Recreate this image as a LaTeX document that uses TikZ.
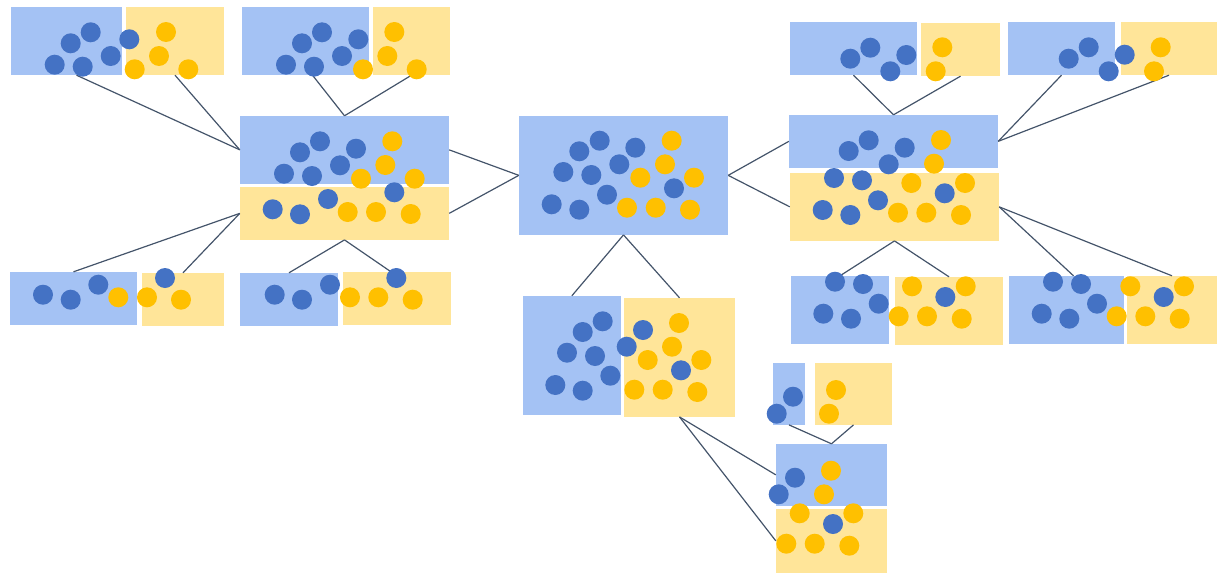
\documentclass[tikz,border=0pt]{standalone}
\usetikzlibrary{fit}
\definecolor{boxblue}{HTML}{A4C2F4}
\definecolor{boxyellow}{HTML}{FFE599}
\definecolor{dotblue}{HTML}{4472C4}
\definecolor{dotyellow}{HTML}{FFC000}
\definecolor{linkgray}{HTML}{44546A}
\tikzset{
  bluebox/.style={fill=boxblue, inner sep=0pt, draw=none},
  yellowbox/.style={fill=boxyellow, inner sep=0pt, draw=none},
  bdot/.style={circle, fill=dotblue, minimum size=20pt, inner sep=0pt},
  ydot/.style={circle, fill=dotyellow, minimum size=20pt, inner sep=0pt},
  link/.style={draw=linkgray, line width=1.2pt}
}
% one dot per x/y pair, named <prefix><index>
\newcommand\placedots[3]{\foreach[count=\i] \x/\y in {#3} \node[#2] (#1\i) at (\x,\y) {};}
\begin{document}
\begin{tikzpicture}[x=1pt, y=-1pt]
\useasboundingbox (0,0) rectangle (1226,573);

% ---- groups ----
\node[bluebox,   fit={(11,7)(122,75)}]      (A1) {};
\node[yellowbox, fit={(126,7)(224,75)}]     (A2) {};
\node[bluebox,   fit={(242,7)(369,75)}]     (B1) {};
\node[yellowbox, fit={(373,7)(450,75)}]     (B2) {};
\node[bluebox,   fit={(240,116)(449,183.7)}] (C1) {};
\node[yellowbox, fit={(240,187)(449,239.7)}] (C2) {};
\node[bluebox,   fit={(10,272)(137,324.7)}]  (D1) {};
\node[yellowbox, fit={(142,273)(224,325.7)}] (D2) {};
\node[bluebox,   fit={(240,273)(338,325.7)}] (E1) {};
\node[yellowbox, fit={(343,272)(451,324.7)}] (E2) {};
\node[bluebox,   fit={(519,116)(728,234.7)}] (F)  {};
\node[bluebox,   fit={(523,296)(620.7,414.7)}] (G1) {};
\node[yellowbox, fit={(624,298)(735,416.7)}]   (G2) {};
\node[bluebox,   fit={(790,22)(917,75)}]     (I1) {};
\node[yellowbox, fit={(921,23)(1000,76)}]    (I2) {};
\node[bluebox,   fit={(1008,22)(1115,75)}]   (J1) {};
\node[yellowbox, fit={(1121,22)(1217,75)}]   (J2) {};
\node[bluebox,   fit={(789,115)(998,167.7)}] (K1) {};
\node[yellowbox, fit={(790,173)(999,240.7)}] (K2) {};
\node[bluebox,   fit={(791,276)(889,343.7)}] (L1) {};
\node[yellowbox, fit={(895,277)(1003,344.7)}] (L2) {};
\node[bluebox,   fit={(1009,276)(1124,343.7)}] (M1) {};
\node[yellowbox, fit={(1127,276)(1217,343.7)}] (M2) {};
\node[bluebox,   fit={(773,363)(805,424.7)}] (N1) {};
\node[yellowbox, fit={(815,363)(892,424.7)}] (N2) {};
\node[bluebox,   fit={(776,444)(887,505.7)}] (H1) {};
\node[yellowbox, fit={(776,509)(887,572.7)}] (H2) {};

% ---- links ----
\draw[link] ([xshift=10pt]A1.south) -- (C1.west);
\draw[link] (A2.south) -- (C1.west);
\draw[link] ([xshift=7pt]B1.south) -- (C1.north);
\draw[link] (B2.south) -- (C1.north);
\draw[link] (C2.west) -- (D1.north);
\draw[link] (C2.west) -- (D2.north);
\draw[link] (C2.south) -- (E1.north);
\draw[link] (C2.south) -- ([xshift=-6pt]E2.north);
\draw[link] (F.west) -- (C1.east);
\draw[link] (F.west) -- (C2.east);
\draw[link] (F.east) -- (K1.west);
\draw[link] (F.east) -- (K2.west);
\draw[link] (F.south) -- (G1.north);
\draw[link] (F.south) -- (G2.north);
\draw[link] (G2.south) -- (H1.west);
\draw[link] (G2.south) -- (H2.west);
\draw[link] (N1.south) -- (H1.north);
\draw[link] (N2.south) -- (H1.north);
\draw[link] (I1.south) -- (K1.north);
\draw[link] (I2.south) -- (K1.north);
\draw[link] (J1.south) -- (K1.east);
\draw[link] (J2.south) -- (K1.east);
\draw[link] (K2.south) -- (L1.north);
\draw[link] (K2.south) -- (L2.north);
\draw[link] (K2.east) -- ([xshift=7pt]M1.north);
\draw[link] (K2.east) -- (M2.north);

% ---- dots ----
\placedots{Ab}{bdot}{90.7/32.3, 70.7/43.3, 54.7/64.7, 82.7/66.7, 110.7/56, 129.3/39.3}
\placedots{Ay}{ydot}{166/32, 159/56, 134.7/69.3, 188.3/69.3}
\placedots{Bb}{bdot}{322/32.3, 302/43.3, 286/64.7, 314/66.7, 342/56, 358.3/39.3}
\placedots{By}{ydot}{394.3/32, 387.3/56, 363/69.3, 416.7/69.3}
\placedots{Cb}{bdot}{320/141.3, 300/152.3, 284/173.7, 312/176, 340/165.3, 356/148.7, 394.3/192.3, 272.7/209.3, 300/214.3, 328/199}
\placedots{Cy}{ydot}{392.3/141.3, 385.3/165, 361/178.7, 414.7/178.7, 347.7/212, 376/212, 410.7/214}
\placedots{Db}{bdot}{43/294.7, 70.7/299.7, 98.3/284.7, 165/278}
\placedots{Dy}{ydot}{118.3/297.3, 147/297.3, 181/299.7}
\placedots{Eb}{bdot}{274.7/294.7, 302/299.7, 330/284.7, 396.3/278}
\placedots{Ey}{ydot}{350/297.3, 378.3/297.3, 412.7/299.7}
\placedots{Fb}{bdot}{599.7/140.7, 579.3/151.3, 563.3/172, 591.3/175, 619.3/164.3, 635.3/147.7, 607/194.7, 551.7/204.3, 579.3/209.7, 674/188.3}
\placedots{Fy}{ydot}{671.7/140.7, 665/164.3, 640.3/177.7, 694/177.7, 627/207.7, 655.7/207.7, 690/209.7}
\placedots{Gb}{bdot}{602.7/321.3, 582.7/332, 567/352.7, 595/356, 610.3/375.7, 555.3/385, 582.7/390.7, 643/330, 626.7/346.7, 681/370.3}
\placedots{Gy}{ydot}{679/323, 672/346.7, 647.7/360, 701.3/360, 634.3/389.7, 662.7/389.7, 697.3/392}
\placedots{Ib}{bdot}{870.3/47.7, 850.3/58.7, 890.3/71.3, 906.3/55}
\placedots{Iy}{ydot}{942.3/47.3, 935.7/71.3}
\placedots{Jb}{bdot}{1088.7/47.3, 1068.7/58.7, 1108.7/71.3, 1124.7/54.7}
\placedots{Jy}{ydot}{1160.7/47.3, 1154/71.3}
\placedots{Kb}{bdot}{868.7/140.3, 848.7/151, 888.7/164.3, 904.7/147.7, 834/178, 862/180.3, 878/200.3, 822.7/210, 850.3/215, 944.7/193.3}
\placedots{Ky}{ydot}{941/140, 934/163.7, 911.3/183, 965/183, 898/212.7, 926.3/212.7, 961/215}
\placedots{Lb}{bdot}{835/281.7, 863/284, 878.7/303.7, 823.3/313.7, 851/318.7, 945.3/297}
\placedots{Ly}{ydot}{912/286.3, 965.7/286.3, 898.7/316.3, 927/316.3, 961.7/318.7}
\placedots{Mb}{bdot}{1053/281.7, 1081/284, 1097/303.7, 1041.7/313.7, 1069.3/318.7, 1163.7/297}
\placedots{My}{ydot}{1130.3/286.3, 1184/286.3, 1116.7/316.3, 1145.3/316.3, 1179.7/318.7}
\placedots{Nb}{bdot}{793/396.7, 776.7/413.7}
\placedots{Ny}{ydot}{836/390, 829/413.7}
\placedots{Hb}{bdot}{795/477.7, 778.7/494.3, 833/524}
\placedots{Hy}{ydot}{831/470.7, 824/494.3, 799.7/513.3, 853.3/513.3, 786.3/543.7, 814.7/543.7, 849.3/545.7}
\end{tikzpicture}
\end{document}
